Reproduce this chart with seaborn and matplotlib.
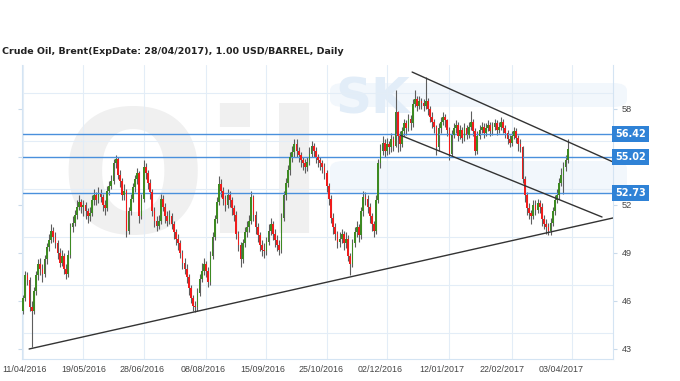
import numpy as np
import pandas as pd
import matplotlib
matplotlib.use("Agg")
import matplotlib.pyplot as plt
import matplotlib.transforms as mtransforms
from matplotlib.patches import FancyBboxPatch
import seaborn as sns

# ---------------- data ----------------
title = "Crude Oil, Brent(ExpDate: 28/04/2017), 1.00 USD/BARREL, Daily"
start_date = "2016-04-11"
first_open = 45.4

close = [
    46.2, 47.6, 47.3, 45.6, 45.4, 46.6, 47.6, 48.3, 48.0, 47.7,
    48.6, 49.4, 49.8, 50.4, 50.0, 49.6, 49.0, 48.4, 48.8, 48.0,
    47.7, 48.9, 50.6, 50.9, 51.4, 51.9, 52.2, 51.9, 52.0, 51.6,
    51.3, 51.5, 52.3, 52.6, 52.3, 52.7, 52.5, 52.0, 51.8, 52.9,
    53.2, 53.5, 54.6, 54.9, 53.9, 53.5, 52.6, 52.9, 50.4, 51.6,
    52.4, 53.1, 53.6, 54.0, 51.3, 52.4, 54.4, 54.0, 53.4, 52.8,
    51.6, 51.0, 50.7, 51.0, 52.4, 51.9, 51.3, 51.0, 51.3, 50.8,
    50.3, 49.9, 49.6, 49.0, 48.4, 48.0, 47.5, 46.8, 46.2, 45.7,
    45.6, 46.5, 47.4, 47.9, 48.3, 47.9, 47.2, 48.8, 50.0, 51.1,
    52.2, 53.3, 52.9, 52.4, 52.0, 52.6, 52.3, 51.8, 51.4, 50.2,
    49.5, 48.6, 49.6, 50.3, 50.6, 51.0, 52.5, 51.4, 50.6, 50.1,
    49.5, 49.2, 49.1, 49.7, 50.4, 50.8, 50.2, 49.8, 49.5, 49.2,
    51.2, 52.6, 53.4, 54.2, 55.0, 55.3, 55.8, 55.4, 55.1, 54.8,
    54.6, 54.4, 54.7, 55.2, 55.7, 55.4, 55.0, 54.8, 54.6, 54.4,
    54.0, 53.2, 52.4, 51.2, 50.6, 50.2, 49.7, 49.9, 50.2, 49.6,
    49.9, 48.8, 48.3, 49.6, 50.3, 50.6, 50.1, 51.6, 52.5, 52.4,
    51.9, 51.3, 50.8, 50.4, 52.3, 54.6, 55.4, 55.9, 55.4, 55.8,
    55.6, 56.1, 55.7, 57.8, 56.3, 55.8, 56.6, 57.1, 56.8, 57.4,
    57.1, 58.3, 58.6, 58.2, 58.5, 58.4, 58.2, 58.5, 58.0, 57.5,
    57.2, 56.9, 55.6, 56.8, 57.2, 57.5, 57.3, 56.7, 55.2, 56.4,
    56.8, 57.0, 56.3, 56.7, 56.2, 56.8, 56.4, 56.9, 57.2, 56.6,
    55.4, 56.3, 56.7, 56.9, 56.5, 56.8, 57.0, 56.6, 56.9, 57.1,
    56.7, 56.9, 57.2, 56.8, 56.5, 56.1, 55.9, 56.3, 56.6, 56.2,
    55.8, 55.6, 53.6, 52.6, 51.8, 51.5, 51.3, 52.0, 51.7, 52.1,
    51.9, 51.1, 50.8, 50.6, 50.4, 50.9, 51.6, 52.3, 52.6, 53.4,
    53.9, 54.4, 54.8, 55.5,
]

high = [
    46.4, 47.9, 47.8, 47.5, 46.0, 46.9, 47.9, 48.6, 48.7, 48.3,
    48.9, 49.6, 50.2, 50.8, 50.6, 50.3, 49.8, 49.3, 49.2, 49.0,
    48.3, 49.2, 50.9, 51.3, 51.7, 52.3, 52.6, 52.4, 52.3, 52.2,
    51.8, 51.9, 52.6, 53.0, 52.8, 53.1, 53.0, 52.7, 52.3, 53.2,
    53.5, 53.9, 54.9, 55.1, 55.0, 54.2, 53.7, 53.3, 53.0, 51.9,
    52.7, 53.4, 53.9, 54.3, 54.1, 52.7, 54.8, 54.6, 54.2, 53.6,
    53.0, 51.9, 51.3, 51.4, 52.7, 52.6, 52.1, 51.6, 51.7, 51.5,
    51.0, 50.5, 50.2, 49.8, 49.2, 48.7, 48.3, 47.7, 47.0, 46.4,
    46.0, 46.8, 47.7, 48.4, 48.7, 48.5, 48.1, 49.1, 50.3, 51.4,
    52.5, 53.8, 53.6, 53.1, 52.6, 53.0, 52.9, 52.5, 52.0, 51.6,
    50.4, 49.7, 49.9, 50.6, 51.0, 51.4, 52.9, 52.6, 51.6, 50.9,
    50.3, 49.8, 49.6, 50.0, 50.8, 51.2, 51.0, 50.5, 50.1, 49.8,
    51.5, 52.9, 53.7, 54.5, 55.3, 55.7, 56.1, 56.1, 55.6, 55.3,
    55.0, 54.9, 55.0, 55.6, 56.0, 55.9, 55.6, 55.2, 55.0, 54.8,
    54.6, 54.2, 53.4, 52.6, 51.5, 50.9, 50.4, 50.3, 50.5, 50.4,
    50.3, 50.1, 49.0, 49.9, 50.6, 51.0, 50.8, 51.9, 52.9, 52.8,
    52.6, 52.1, 51.5, 51.0, 52.6, 54.9, 55.8, 56.3, 56.1, 56.2,
    56.0, 56.5, 56.3, 59.2, 57.9, 56.6, 56.9, 57.4, 57.3, 57.7,
    57.6, 58.6, 59.2, 58.8, 58.8, 58.7, 58.6, 60.0, 58.7, 58.2,
    57.8, 57.4, 57.0, 57.1, 57.5, 57.8, 57.7, 57.4, 56.9, 56.7,
    57.1, 57.3, 57.2, 57.0, 56.9, 57.1, 57.0, 57.2, 57.9, 57.4,
    56.8, 56.6, 57.0, 57.2, 57.1, 57.1, 57.3, 57.2, 57.2, 57.4,
    57.3, 57.2, 57.5, 57.4, 57.0, 56.7, 56.4, 56.6, 56.9, 56.8,
    56.4, 56.1, 55.7, 53.8, 52.8, 52.1, 51.7, 52.3, 52.3, 52.4,
    52.3, 52.1, 51.4, 51.1, 50.9, 51.2, 51.9, 52.6, 53.0, 53.7,
    54.3, 54.7, 55.1, 56.1,
]

low = [
    45.2, 46.0, 47.0, 45.4, 43.1, 45.2, 46.4, 47.3, 47.6, 47.2,
    47.5, 48.3, 49.1, 49.6, 49.7, 49.3, 48.6, 48.1, 48.2, 47.7,
    47.4, 47.5, 48.7, 50.3, 50.7, 51.1, 51.7, 51.5, 51.3, 51.1,
    50.9, 51.0, 51.3, 52.0, 52.0, 52.1, 52.2, 51.6, 51.4, 51.6,
    52.6, 53.0, 53.3, 54.3, 53.6, 53.1, 52.3, 52.3, 50.0, 50.2,
    51.4, 52.2, 52.8, 53.3, 50.9, 51.1, 52.2, 53.6, 53.0, 52.4,
    51.3, 50.6, 50.4, 50.5, 50.8, 51.6, 50.9, 50.7, 50.8, 50.5,
    49.9, 49.5, 49.2, 48.7, 48.0, 47.7, 47.1, 46.4, 45.9, 45.4,
    45.3, 45.4, 46.3, 47.2, 47.6, 47.5, 46.9, 47.0, 48.6, 49.8,
    50.9, 52.0, 52.5, 52.0, 51.6, 51.8, 51.9, 51.4, 51.0, 49.9,
    49.1, 48.1, 48.4, 49.4, 50.0, 50.3, 50.8, 51.0, 50.2, 49.7,
    49.1, 48.8, 48.7, 48.9, 49.5, 50.1, 49.8, 49.4, 49.1, 48.9,
    49.0, 51.0, 52.3, 53.1, 53.9, 54.7, 55.0, 55.0, 54.7, 54.4,
    54.2, 54.0, 54.1, 54.5, 55.0, 55.0, 54.6, 54.4, 54.2, 54.0,
    53.6, 52.8, 52.0, 50.9, 50.2, 49.8, 49.3, 49.4, 49.6, 49.2,
    49.3, 48.5, 47.6, 48.1, 49.4, 50.0, 49.7, 49.9, 51.3, 52.0,
    51.5, 50.9, 50.4, 50.0, 50.2, 52.1, 54.3, 55.1, 55.0, 55.1,
    55.2, 55.3, 55.4, 55.6, 55.3, 55.4, 55.6, 56.3, 56.4, 56.6,
    56.7, 56.9, 58.1, 57.9, 58.0, 58.0, 57.9, 58.0, 57.6, 57.2,
    56.8, 56.5, 55.1, 55.4, 56.5, 57.0, 56.9, 56.3, 54.8, 55.0,
    56.2, 56.5, 56.0, 56.1, 55.9, 56.0, 56.1, 56.2, 56.7, 56.3,
    55.1, 55.2, 56.1, 56.5, 56.2, 56.3, 56.6, 56.3, 56.4, 56.7,
    56.4, 56.5, 56.7, 56.5, 56.2, 55.8, 55.6, 55.7, 56.1, 55.9,
    55.4, 55.3, 53.4, 52.2, 51.4, 51.1, 50.8, 51.1, 51.4, 51.5,
    51.5, 50.7, 50.5, 50.2, 50.1, 50.1, 50.7, 51.4, 52.1, 52.4,
    53.2, 52.7, 54.1, 54.6,
]

levels = [56.42, 55.02, 52.73]

tick_dates = ["2016-04-11", "2016-05-19", "2016-06-28", "2016-08-08", "2016-09-15",
              "2016-10-25", "2016-12-02", "2017-01-12", "2017-02-22", "2017-04-03"]
tick_labels = ["11/04/2016", "19/05/2016", "28/06/2016", "08/08/2016", "15/09/2016",
               "25/10/2016", "02/12/2016", "12/01/2017", "22/02/2017", "03/04/2017"]

ytick_values = [43, 46, 49, 52, 55, 58]
ytick_labels = ["43", "46", "49", "52", "", "58"]   # 55 sits under the 55.02 marker
ygrid_values = [44, 47, 50, 53, 56, 59]

# trend lines (bar index, price)
support_x = [2.8, 274.0]
support_y = [43.0, 51.19]
channel_top_x = [180.7, 274.0]
channel_top_y = [60.31, 54.69]
channel_bot_x = [175.1, 268.9]
channel_bot_y = [56.37, 51.25]

# ---------------- figure ----------------
sns.set_theme(style="white")
plt.rcParams["font.family"] = ["DejaVu Sans"]

fig = plt.figure(figsize=(6.8, 3.81), dpi=100)
ax = fig.add_axes([22 / 680, 22 / 381, (613 - 22) / 680, (359 - 65) / 381])
ax.set_facecolor("white")

n = len(close)
idx = np.arange(n)
opens = [first_open] + close[:-1]
df = pd.DataFrame({"idx": idx, "open": opens, "high": high, "low": low, "close": close})
df["up"] = df["close"] >= df["open"]
df["bottom"] = df[["open", "close"]].min(axis=1)
df["body"] = (df["close"] - df["open"]).abs().clip(lower=0.06)

# faint watermark (logo)
for (x0, y0, w, h) in [(330 / 680, 1 - 107 / 381, 297 / 680, 24 / 381),
                       (330 / 680, 1 - 193 / 381, 297 / 680, 32 / 381)]:
    band = FancyBboxPatch((x0, y0), w, h, boxstyle="round,pad=0,rounding_size=0.02",
                          transform=fig.transFigure, fc="#f2f7fc", ec="none",
                          zorder=0.05, clip_on=False)
    ax.add_patch(band)
ax.text(0.064, 0.43, "Oil", transform=ax.transAxes, fontsize=124, fontweight="bold",
        color="#f0f0f0", zorder=0.1, ha="left", va="baseline")
ax.text(0.53, 0.835, "SK", transform=ax.transAxes, fontsize=36, fontweight="bold",
        color="#e2edf8", zorder=0.1, ha="left", va="baseline")

# grid
for gx in tick_dates:
    ax.axvline(np.busday_count(start_date, gx), color="#e3edf7", lw=0.8, zorder=0.5)
for gy in ygrid_values:
    ax.axhline(gy, color="#e3edf7", lw=0.8, zorder=0.5)

# candles
ax.vlines(df["idx"], df["low"], df["high"], color="#5e5e5e", lw=0.8, zorder=2)
colors = np.where(df["up"], "#3d8a22", "#f01c1c")
ax.bar(df["idx"], df["body"], bottom=df["bottom"], width=0.8, color=colors,
       linewidth=0, zorder=3)

# level lines
for v in levels:
    ax.axhline(v, color="#4a90dc", lw=1.0, zorder=2.5)

# trend lines
for xs, ys in [(support_x, support_y), (channel_top_x, channel_top_y),
               (channel_bot_x, channel_bot_y)]:
    sns.lineplot(x=xs, y=ys, color="#333333", lw=1.0, ax=ax, zorder=4)

ax.set_xlim(-0.5, 274)
ax.set_ylim(42.375, 60.75)

# ticks
tick_pos = [int(np.busday_count(start_date, d)) for d in tick_dates]
ax.set_xticks(tick_pos)
ax.set_xticklabels(tick_labels, fontfamily="Liberation Sans")
ax.set_yticks(ytick_values)
ax.set_yticklabels(ytick_labels, fontfamily="Liberation Sans")
ax.tick_params(axis="x", length=0, labelsize=6.4, labelcolor="#444444", pad=4)
ax.tick_params(axis="y", left=True, right=True, labelleft=False, labelright=True,
               length=3, width=0.8, color="#c9daea", labelsize=6.6,
               labelcolor="#444444", pad=3)
for k, lab in enumerate(ax.get_xticklabels()):
    dx = (1.5 - 1.35 * k) / 100.0
    lab.set_transform(lab.get_transform() + mtransforms.ScaledTranslation(dx, 0, fig.dpi_scale_trans))
ax.set_xlabel("")
ax.set_ylabel("")

for s in ["left", "right", "bottom"]:
    ax.spines[s].set_color("#d4e4f3")
    ax.spines[s].set_linewidth(0.8)
ax.spines["top"].set_visible(False)

# level labels
trans = mtransforms.blended_transform_factory(ax.transAxes, ax.transData)
for v in levels:
    ax.text(1.004, v, f"{v:.2f}", transform=trans, ha="left", va="center",
            fontsize=7.0, fontweight="bold", color="white", zorder=10, clip_on=False,
            bbox=dict(boxstyle="square,pad=0.3", fc="#2f82d6", ec="none"))

fig.text(2 / 680, 1 - 52 / 381, title, fontsize=6.8, fontweight="bold",
         color="#222222", ha="left", va="center")

fig.savefig("out.png", dpi=100, facecolor="white")
